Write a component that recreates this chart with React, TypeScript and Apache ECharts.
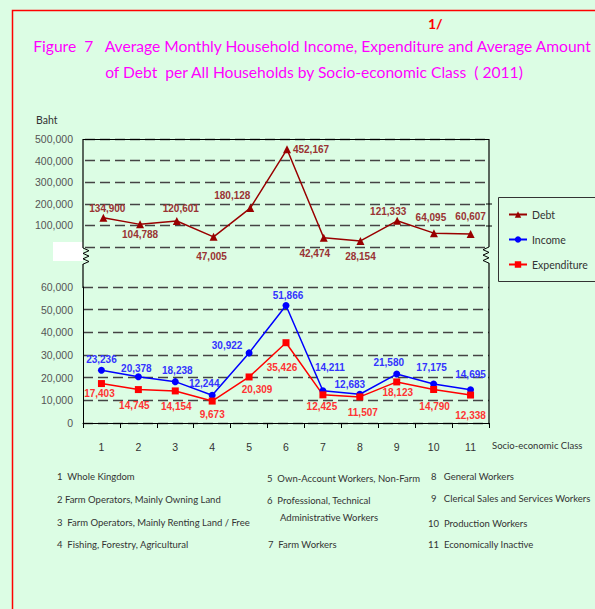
import React, { useEffect, useRef } from 'react';
import * as echarts from 'echarts';

const categories = ['1', '2', '3', '4', '5', '6', '7', '8', '9', '10', '11'];
const debt = [134900, 104788, 120601, 47005, 180128, 452167, 42474, 28154, 121333, 64095, 60607];
const income = [23236, 20378, 18238, 12244, 30922, 51866, 14211, 12683, 21580, 17175, 14695];
const expenditure = [17403, 14745, 14154, 9673, 20309, 35426, 12425, 11507, 18123, 14790, 12338];

const debtTickMax = 500000;
const debtTickStep = 100000;
const spendTickMax = 60000;
const spendTickStep = 10000;

const titleLine1 = 'Figure  7   Average Monthly Household Income, Expenditure and Average Amount';
const titleLine2 = 'of Debt  per All Households by Socio-economic Class  ( 2011)';
const yAxisName = 'Baht';
const xAxisName = 'Socio-economic Class';

const classNotes1 = [
  '1  Whole Kingdom',
  '2 Farm Operators, Mainly Owning Land',
  '3  Farm Operators, Mainly Renting Land / Free',
  '4  Fishing, Forestry, Agricultural',
];
const classNotes2 = [
  '5  Own-Account Workers, Non-Farm',
  '6  Professional, Technical',
  'Administrative Workers',
  '7  Farm Workers',
];
const classNotes3 = [
  '8   General Workers',
  '9   Clerical Sales and Services Workers',
  '10  Production Workers',
  '11  Economically Inactive',
];

// label placement (offset of label centre from its point)
const debtLabelOffsets = [[4, -9], [0, 10], [4, -12], [-2, 20], [-18, -13], [24, 0], [-9, 16], [0, 16], [-9, -9], [-3, -16], [0, -17]];
const incomeLabelOffsets = [[0, -11], [-2, -8], [2, -11], [-8, -12], [-22, -7], [2, -10], [7, -23], [-10, -10], [-8, -12], [-2, -17], [0, -15]];
const expLabelOffsets = [[-2, 10], [-4, 16], [1, 16], [0, 13], [8, 13], [-4, 25], [-1, 12], [3, 16], [1, 11], [1, 17], [0, 20]];

const fmt = (v: number) => v.toLocaleString('en-US');
const NUM_FONT = 'Liberation Sans';
const TXT_FONT = 'Lato';

export default function App() {
  const ref = useRef<HTMLDivElement>(null);
  useEffect(() => {
    document.body.style.margin = '0';
    const chart = echarts.init(ref.current!, null, { renderer: 'svg' });

    const labelBase = (color: string) => ({
      show: true,
      position: 'inside',
      color,
      fontFamily: NUM_FONT,
      fontWeight: 'bold',
      fontSize: 10,
      formatter: (p: any) => fmt(p.value),
    });

    const mk = (vals: number[], offs: number[][]) =>
      vals.map((v, i) => ({ value: v, label: { offset: offs[i] } }));

    const zig = (x0: number, x1: number, y0: number, n: number, step: number) => {
      const pts: number[][] = [];
      for (let i = 0; i <= n; i++) pts.push([i % 2 === 0 ? x0 : x1, y0 + i * step]);
      return pts;
    };

    const noteText = (x: number, y: number, t: string) => ({
      type: 'text',
      x,
      y,
      style: { text: t, fill: '#333', font: `9.5px ${TXT_FONT}`, textVerticalAlign: 'middle' },
    });

    const option: any = {
      animation: false,
      backgroundColor: '#dcfde4',
      legend: {
        data: ['Debt', 'Income', 'Expenditure'],
        orient: 'vertical',
        left: 503,
        top: 204,
        itemWidth: 18,
        itemHeight: 8,
        itemGap: 14,
        textStyle: { fontFamily: TXT_FONT, fontSize: 10.5, color: '#333' },
      },
      grid: [
        { left: 85, top: 139, width: 404, height: 108 },
        { left: 83, top: 287, width: 406, height: 136 },
      ],
      xAxis: [
        { gridIndex: 0, type: 'category', data: categories, show: false },
        {
          gridIndex: 1,
          type: 'category',
          data: categories,
          axisLine: { lineStyle: { color: '#000', width: 1 } },
          axisTick: { show: true, length: 5, lineStyle: { color: '#000' } },
          axisLabel: { color: '#333', fontFamily: NUM_FONT, fontSize: 10.5, margin: 18 },
        },
      ],
      yAxis: [
        {
          gridIndex: 0,
          type: 'value',
          min: 0,
          max: debtTickMax,
          interval: debtTickStep,
          axisLine: { show: false },
          axisTick: { show: false },
          axisLabel: {
            color: '#555',
            fontFamily: NUM_FONT,
            fontSize: 10.5,
            margin: 12,
            formatter: (v: number) => (v === 0 ? '' : fmt(v)),
          },
          splitLine: { lineStyle: { color: '#444', width: 1.3, type: [10, 5] } },
        },
        {
          gridIndex: 1,
          type: 'value',
          min: 0,
          max: spendTickMax,
          interval: spendTickStep,
          axisLine: { show: true, lineStyle: { color: '#000' } },
          axisTick: { show: false },
          axisLabel: { color: '#555', fontFamily: NUM_FONT, fontSize: 10.5, margin: 10, formatter: (v: number) => fmt(v) },
          splitLine: { lineStyle: { color: '#444', width: 1.3, type: [10, 5] } },
        },
      ],
      series: [
        {
          name: 'Debt',
          type: 'line',
          xAxisIndex: 0,
          yAxisIndex: 0,
          data: mk(debt, debtLabelOffsets),
          symbol: 'triangle',
          symbolSize: 8,
          itemStyle: { color: '#990000' },
          lineStyle: { color: '#990000', width: 1.5 },
          label: labelBase('#993333'),
        },
        {
          name: 'Income',
          type: 'line',
          xAxisIndex: 1,
          yAxisIndex: 1,
          data: mk(income, incomeLabelOffsets),
          symbol: 'circle',
          symbolSize: 7,
          itemStyle: { color: '#0000ff' },
          lineStyle: { color: '#0000ff', width: 1.5 },
          label: labelBase('#3333ff'),
        },
        {
          name: 'Expenditure',
          type: 'line',
          xAxisIndex: 1,
          yAxisIndex: 1,
          data: mk(expenditure, expLabelOffsets),
          symbol: 'rect',
          symbolSize: 7,
          itemStyle: { color: '#ff0000' },
          lineStyle: { color: '#ff0000', width: 1.5 },
          label: labelBase('#ff3333'),
        },
      ],
      graphic: [
        { type: 'polyline', shape: { points: [[12.5, 612], [12.5, 10.5], [600, 10.5]] }, style: { stroke: '#ff0000', lineWidth: 1.5, fill: null } },
        { type: 'text', x: 428, y: 16, style: { text: '1/', fill: '#ff0000', font: `bold 14px ${TXT_FONT}` } },
        { type: 'text', x: 312, y: 46, style: { text: titleLine1, fill: '#ff00ff', font: `15.6px ${TXT_FONT}`, textAlign: 'center', textVerticalAlign: 'middle' } },
        { type: 'text', x: 314, y: 72, style: { text: titleLine2, fill: '#ff00ff', font: `15.6px ${TXT_FONT}`, textAlign: 'center', textVerticalAlign: 'middle' } },
        { type: 'text', x: 36, y: 120, style: { text: yAxisName, fill: '#333', font: `10.5px ${TXT_FONT}`, textVerticalAlign: 'middle' } },
        { type: 'text', x: 492, y: 445, style: { text: xAxisName, fill: '#333', font: `9.5px ${TXT_FONT}`, textVerticalAlign: 'middle' } },
        { type: 'rect', shape: { x: 53, y: 242, width: 30, height: 19 }, style: { fill: '#fff' }, z: 10 },
        { type: 'line', shape: { x1: 83, y1: 139.5, x2: 489, y2: 139.5 }, style: { stroke: '#000', lineWidth: 1.2 }, z: 11 },
        { type: 'line', shape: { x1: 83, y1: 139, x2: 83, y2: 248 }, style: { stroke: '#000', lineWidth: 1.2 }, z: 11 },
        { type: 'line', shape: { x1: 83, y1: 264, x2: 83, y2: 288 }, style: { stroke: '#000', lineWidth: 1.2 }, z: 11 },
        { type: 'polyline', shape: { points: zig(83, 89, 248, 6, 2.7) }, style: { stroke: '#000', lineWidth: 1, fill: null }, z: 11 },
        { type: 'line', shape: { x1: 489, y1: 139, x2: 489, y2: 247 }, style: { stroke: '#000', lineWidth: 1.2 }, z: 11 },
        { type: 'line', shape: { x1: 489, y1: 263, x2: 489, y2: 423 }, style: { stroke: '#000', lineWidth: 1.2 }, z: 11 },
        { type: 'polyline', shape: { points: zig(489, 483, 247, 6, 2.7) }, style: { stroke: '#000', lineWidth: 1, fill: null }, z: 11 },
        { type: 'line', shape: { x1: 486, y1: 204, x2: 492, y2: 204 }, style: { stroke: '#000', lineWidth: 1 }, z: 11 },
        { type: 'line', shape: { x1: 486, y1: 226, x2: 492, y2: 226 }, style: { stroke: '#000', lineWidth: 1 }, z: 11 },
        { type: 'rect', shape: { x: 498.5, y: 197.5, width: 110, height: 84 }, style: { fill: null, stroke: '#333', lineWidth: 1 } },
        noteText(57, 476, classNotes1[0]),
        noteText(57, 499, classNotes1[1]),
        noteText(57, 522, classNotes1[2]),
        noteText(57, 544, classNotes1[3]),
        noteText(267, 478, classNotes2[0]),
        noteText(267, 500, classNotes2[1]),
        noteText(280, 517, classNotes2[2]),
        noteText(268, 544, classNotes2[3]),
        noteText(431, 476, classNotes3[0]),
        noteText(431, 498, classNotes3[1]),
        noteText(428, 523, classNotes3[2]),
        noteText(428, 544, classNotes3[3]),
      ],
    };

    chart.setOption(option);
    return () => chart.dispose();
  }, []);
  return <div ref={ref} style={{ width: 595, height: 609 }} />;
}
